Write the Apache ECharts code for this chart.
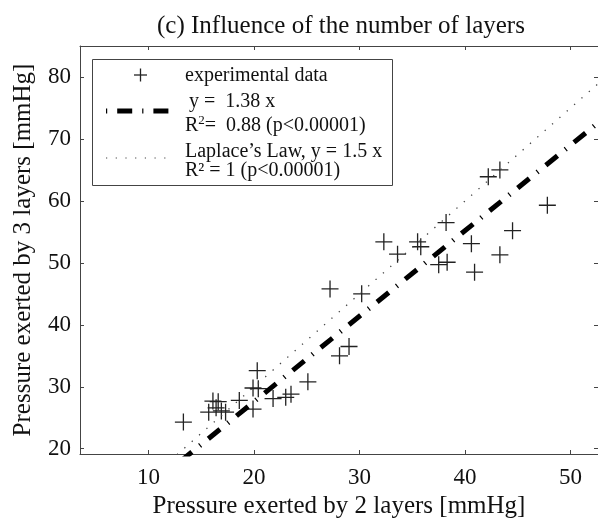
<!DOCTYPE html>
<html>
<head>
<meta charset="utf-8">
<script src="https://cdn.jsdelivr.net/npm/echarts@6/dist/echarts.min.js"></script>
<style>html,body{margin:0;padding:0;background:#fff}#c{width:598px;height:524px}</style>
</head>
<body>
<div id="c"></div>
<script>
// ---- data ----
var pressure2Layers = [13.3,15.7,16.1,16.6,16.4,16.9,17.3,18.6,19.9,19.9,20.4,20.3,21.8,23.0,23.5,25.1,28.1,29.0,30.2,27.2,32.3,33.6,35.5,35.8,37.5,38.3,38.2,40.6,40.9,43.3,44.5,42.2,43.3,47.8];
var pressure3Layers = [24.3,25.9,27.7,27.6,26.6,26.1,25.9,27.8,26.4,29.8,29.7,32.6,28.1,28.3,28.8,30.8,35.0,36.5,45.0,45.8,53.4,51.4,53.4,52.6,49.7,50.1,56.5,53.1,48.5,51.3,55.2,63.9,65.0,59.3];
var fitLineX = [13, 55];
var fitLineY = [17.94, 75.9];      // y = 1.38 x
var lawLineX = [12, 60];
var lawLineY = [18, 90];           // y = 1.5 x
var xTicks = [10, 20, 30, 40, 50];
var yTicks = [20, 30, 40, 50, 60, 70, 80];

var scatterData = pressure2Layers.map(function (v, i) { return [v, pressure3Layers[i]]; });
var fitData = fitLineX.map(function (v, i) { return [v, fitLineY[i]]; });
var lawData = lawLineX.map(function (v, i) { return [v, lawLineY[i]]; });

var FONT = '"Liberation Serif", "DejaVu Serif", serif';
var AX = '#444';
var XMIN = 3.5, XMAX = 52.6, YMIN = 19.15, YMAX = 85;
var plusPath = 'path://M10,0 L10,20 M0,10 L20,10';

var chart = echarts.init(document.getElementById('c'), null, {renderer: 'canvas'});
function axisCommon(show) {
  return {
    axisLine: {show: show, lineStyle: {color: AX, width: 1}},
    splitLine: {show: false}
  };
}
var LG = '20px ' + FONT;
var option = {
  backgroundColor: '#fff',
  animation: false,
  title: {
    text: '(c) Influence of the number of layers',
    left: 152, top: 9,
    textStyle: {fontFamily: FONT, fontSize: 25, fontWeight: 'normal', color: '#111'}
  },
  grid: {left: 80, right: 0, top: 46, bottom: 68, containLabel: false},
  xAxis: [
    Object.assign({
      type: 'value', min: XMIN, max: XMAX, position: 'bottom',
      name: 'Pressure exerted by 2 layers [mmHg]', nameLocation: 'middle', nameGap: 40,
      nameTextStyle: {fontFamily: FONT, fontSize: 25, color: '#111'},
      axisTick: {inside: true, length: 4, customValues: xTicks, lineStyle: {color: AX}},
      axisLabel: {customValues: xTicks, fontFamily: FONT, fontSize: 23, color: '#111', margin: 12}
    }, axisCommon(true)),
    Object.assign({
      type: 'value', min: XMIN, max: XMAX, position: 'top',
      axisTick: {inside: true, length: 4, customValues: xTicks, lineStyle: {color: AX}},
      axisLabel: {show: false}
    }, axisCommon(true))
  ],
  yAxis: [
    Object.assign({
      type: 'value', min: YMIN, max: YMAX, position: 'left',
      name: 'Pressure exerted by 3 layers [mmHg]', nameLocation: 'middle', nameGap: 44,
      nameRotate: 90,
      nameTextStyle: {fontFamily: FONT, fontSize: 25, color: '#111'},
      axisTick: {inside: true, length: 4, customValues: yTicks, lineStyle: {color: AX}},
      axisLabel: {customValues: yTicks, fontFamily: FONT, fontSize: 23, color: '#111', margin: 9}
    }, axisCommon(true)),
    Object.assign({
      type: 'value', min: YMIN, max: YMAX, position: 'right',
      axisTick: {inside: true, length: 4, customValues: yTicks, lineStyle: {color: AX}},
      axisLabel: {show: false}
    }, axisCommon(false))
  ],
  series: [
    {
      type: 'line', data: lawData, symbol: 'none', clip: true,
      lineStyle: {color: '#444', width: 1.3, type: [1.3, 8.5], cap: 'butt'}
    },
    {
      type: 'line', data: fitData, symbol: 'none', clip: true,
      lineStyle: {color: '#000', width: 5, type: [15, 10, 1.2, 10], cap: 'butt'}
    },
    {
      type: 'scatter', data: scatterData, symbol: plusPath, symbolSize: 17,
      itemStyle: {color: 'rgba(0,0,0,0)', borderColor: '#222', borderWidth: 1.3, opacity: 1}
    }
  ],
  graphic: [
    {type: 'rect', z: 100, shape: {x: 92.5, y: 59.5, width: 300, height: 126},
      style: {fill: '#fff', stroke: '#444', lineWidth: 1}},
    {type: 'line', z: 101, shape: {x1: 134, y1: 75, x2: 147, y2: 75},
      style: {stroke: '#222', lineWidth: 1.3}},
    {type: 'line', z: 101, shape: {x1: 140.5, y1: 68.5, x2: 140.5, y2: 81.5},
      style: {stroke: '#222', lineWidth: 1.3}},
    {type: 'text', z: 101,
      style: {x: 185, y: 76, text: 'experimental data', font: LG, fill: '#111', verticalAlign: 'middle'}},
    {type: 'line', z: 101, shape: {x1: 106, y1: 111, x2: 171, y2: 111},
      style: {stroke: '#000', lineWidth: 5, lineDash: [1.2, 10, 15, 10], lineCap: 'butt'}},
    {type: 'text', z: 101,
      style: {x: 189, y: 102, text: 'y =  1.38 x', font: LG, fill: '#111', verticalAlign: 'middle'}},
    {type: 'text', z: 101,
      style: {x: 185, y: 125, verticalAlign: 'middle', text: '{n|R}{s|2}{n|=  0.88 (p<0.00001)}', rich: {
        n: {font: LG, fill: '#111', verticalAlign: 'bottom'},
        s: {font: '13px ' + FONT, fill: '#111', verticalAlign: 'top', padding: [0, 0, 8, 0]}
      }}},
    {type: 'line', z: 101, shape: {x1: 106, y1: 158, x2: 171, y2: 158},
      style: {stroke: '#444', lineWidth: 1.2, lineDash: [1.2, 8.5], lineCap: 'butt'}},
    {type: 'text', z: 101,
      style: {x: 185, y: 152, text: 'Laplace\u2019s Law, y = 1.5 x', font: LG, fill: '#111', verticalAlign: 'middle'}},
    {type: 'text', z: 101,
      style: {x: 185, y: 171, text: 'R\u00b2 = 1 (p<0.00001)', font: LG, fill: '#111', verticalAlign: 'middle'}}
  ]
};
chart.setOption(option);
</script>
</body>
</html>
